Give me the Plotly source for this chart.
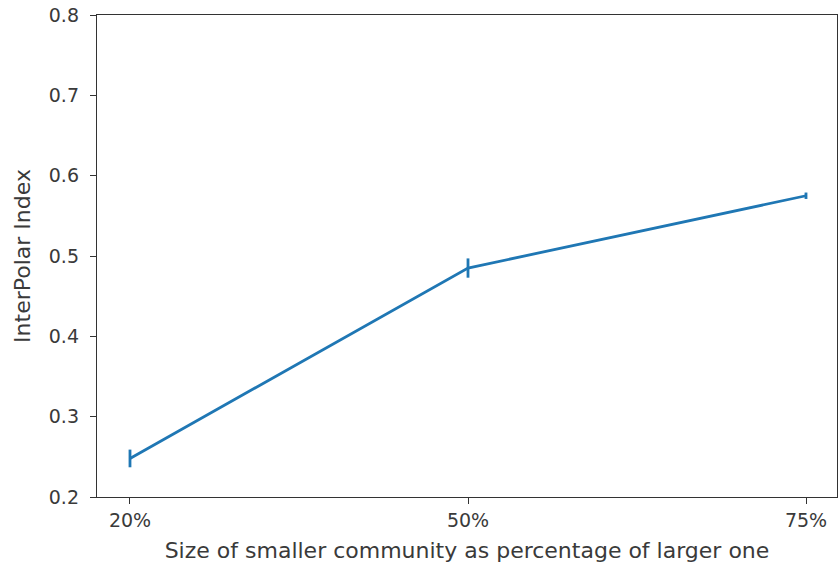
import plotly.graph_objects as go

categories = ["20%", "50%", "75%"]
values = [0.248, 0.485, 0.575]
errors = [0.011, 0.012, 0.004]
y_ticks = [0.2, 0.3, 0.4, 0.5, 0.6, 0.7, 0.8]

fig = go.Figure()
fig.add_trace(go.Scatter(
    x=list(range(len(categories))), y=values, mode="lines",
    line=dict(color="#1f77b4", width=2.8),
    error_y=dict(type="data", array=errors, visible=True, color="#1f77b4", thickness=2.8, width=0),
    showlegend=False,
))

FONT = "DejaVu Sans"
TXT = "#3a3a3a"

axis_common = dict(
    showline=True, linecolor="#333333", linewidth=1.4, mirror=True,
    ticks="outside", ticklen=6, tickcolor="#333333", tickwidth=1.4,
    showgrid=False, zeroline=False,
    tickfont=dict(family=FONT, size=19, color=TXT),
)

fig.update_layout(
    width=838, height=569,
    margin=dict(l=97, r=1, t=15, b=72),
    plot_bgcolor="white", paper_bgcolor="white",
    xaxis=dict(
        tickmode="array", tickvals=list(range(len(categories))), ticktext=categories,
        range=[-0.0976, 2.0917],
        ticklabelstandoff=0,
        title=dict(text="Size of smaller community as percentage of larger one",
                   font=dict(family=FONT, size=22, color=TXT), standoff=12),
        **axis_common,
    ),
    yaxis=dict(
        tickmode="array", tickvals=y_ticks, ticktext=[f"{v:.1f}" for v in y_ticks],
        range=[0.2, 0.8],
        ticklabelstandoff=7,
        title=dict(text="InterPolar Index",
                   font=dict(family=FONT, size=22, color=TXT), standoff=12),
        **axis_common,
    ),
)

fig.write_html("out.html")
